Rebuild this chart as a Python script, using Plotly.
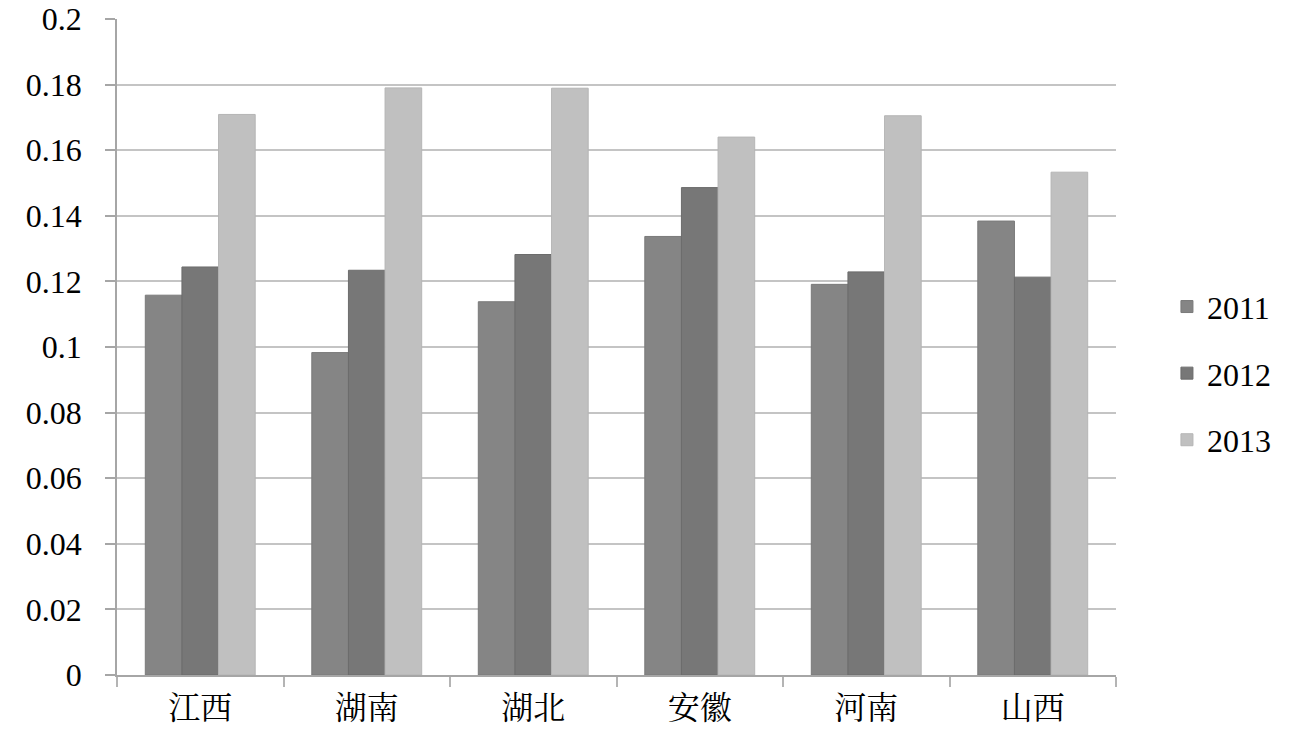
import plotly.graph_objects as go

provinces = ["江西", "湖南", "湖北", "安徽", "河南", "山西"]
years = ["2011", "2012", "2013"]
v2011 = [0.1158, 0.0983, 0.1138, 0.1337, 0.1191, 0.1384]
v2012 = [0.1244, 0.1234, 0.1282, 0.1486, 0.1229, 0.1213]
v2013 = [0.1709, 0.1790, 0.1789, 0.1640, 0.1705, 0.1533]
colors = ["#858585", "#777777", "#c0c0c0"]
lines = ["#7a7a7a", "#6c6c6c", "#b5b5b5"]

fig = go.Figure()
for i, (name, vals) in enumerate(zip(years, [v2011, v2012, v2013])):
    fig.add_trace(go.Bar(
        x=provinces, y=vals, name=name, legendgroup=name,
        marker=dict(color=colors[i], line=dict(color=lines[i], width=1)),
    ))

fig.update_layout(
    width=1299, height=731,
    margin=dict(l=117, r=183, t=19, b=56),
    paper_bgcolor="white", plot_bgcolor="white",
    barmode="group", bargap=0.34, bargroupgap=0.0,
    font=dict(family="Liberation Serif, Times New Roman, serif", color="black"),
    legend=dict(x=1.051, y=0.46, yanchor="middle", xanchor="left",
                font=dict(size=32, family="Liberation Serif"),
                tracegroupgap=22, itemwidth=30),
    showlegend=True,
)
fig.update_yaxes(
    range=[0, 0.2], dtick=0.02, showgrid=True, gridcolor="#c4c4c4", gridwidth=1.5,
    showline=True, linecolor="#a6a6a6", linewidth=1.5,
    ticks="outside", ticklen=10, tickcolor="#a6a6a6", tickwidth=1.5,
    tickfont=dict(size=32, family="Liberation Serif"), zeroline=False,
    automargin=False, ticklabelstandoff=17, ticklabeloverflow="allow",
)
fig.update_xaxes(
    showline=True, linecolor="#a6a6a6", linewidth=1.5,
    ticks="outside", ticklen=10, tickcolor="#b4b4b4", tickwidth=1.5, tickson="boundaries",
    tickfont=dict(size=32, family="Noto Serif CJK SC, Noto Sans CJK SC"),
    automargin=False, ticklabelstandoff=4, ticklabeloverflow="allow",
)
fig.write_html("out.html", config={"displayModeBar": False},
               post_script="document.body.style.margin='0';")
